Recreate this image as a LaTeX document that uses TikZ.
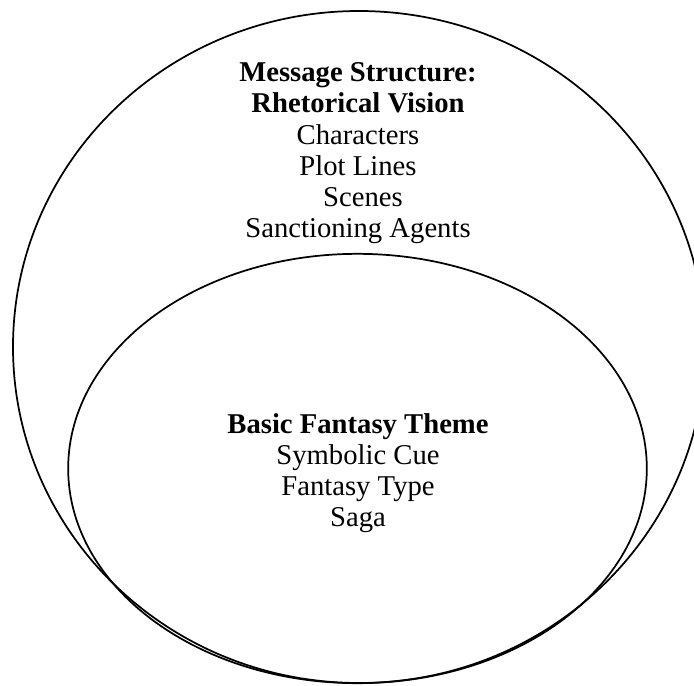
\documentclass[tikz,border=0pt]{standalone}
\usepackage{fontspec}
\setmainfont{Liberation Serif}
\usetikzlibrary{positioning,shapes.geometric}
\tikzstyle{vbox}=[ellipse, draw=black, line width=1.3pt, inner sep=0pt]
\tikzstyle{tbox}=[align=center, inner sep=0pt, font=\fontsize{21.5}{23.4}\selectfont]

\begin{document}
\begin{tikzpicture}[x=0.75pt, y=-0.75pt]
\useasboundingbox (0,0) rectangle (694,686);

\node (VISION) [vbox, minimum width=519pt, minimum height=504pt] at (359,347) {};
\node (THEME) [vbox, minimum width=434pt, minimum height=322pt] at (357.5,468.5) {};

\node (VISIONTXT) [tbox, anchor=north] at (358,62.5) {\textbf{Message Structure:}\\
\textbf{Rhetorical Vision}\\
Characters\\
Plot Lines\\
\hspace*{0.35em}Scenes\\
Sanctioning Agents};
\node (THEMETXT) [tbox, anchor=north] at (358,413) {\textbf{Basic Fantasy Theme}\\
Symbolic Cue\\
Fantasy Type\\
Saga};

\end{tikzpicture}
\end{document}
